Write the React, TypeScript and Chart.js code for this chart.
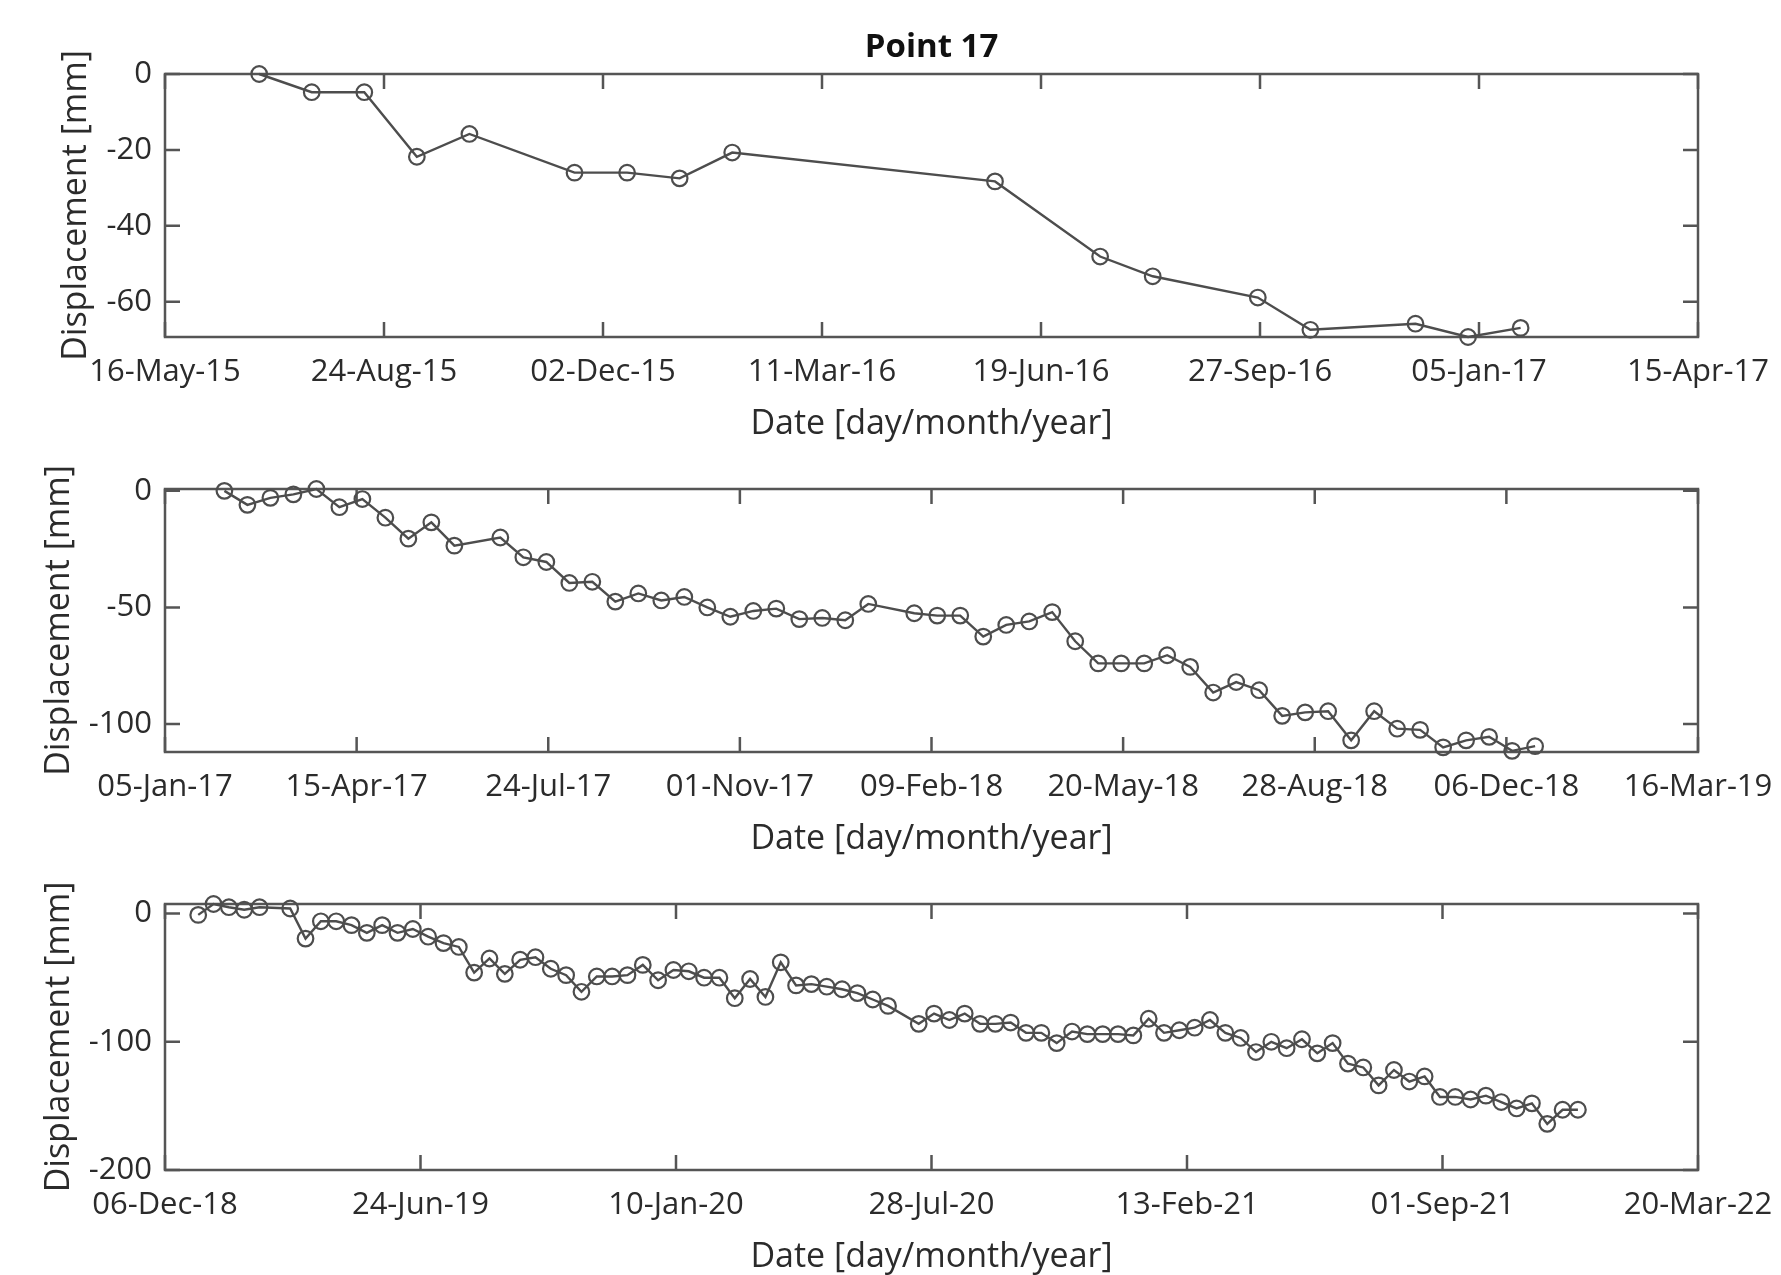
import React, { useEffect, useRef } from 'react';
import { Chart, registerables } from 'chart.js';

Chart.register(...registerables);

// ---------------- Data ----------------
const TITLE = 'Point 17';
const X_LABEL = 'Date [day/month/year]';
const Y_LABEL = 'Displacement [mm]';

// Panel 1: x = days since 16-May-15
const p1Days = [43, 67, 91, 115, 139, 187, 211, 235, 259, 379, 427, 451, 499, 523, 571, 595, 619];
const p1Disp = [0, -4.8, -4.8, -21.8, -15.8, -26, -26, -27.5, -20.7, -28.3, -48.1, -53.3, -58.9, -67.4, -65.8, -69.3, -66.9];
const p1TickDays = [0, 100, 200, 300, 400, 500, 600, 700];
const p1TickLabels = ['16-May-15', '24-Aug-15', '02-Dec-15', '11-Mar-16', '19-Jun-16', '27-Sep-16', '05-Jan-17', '15-Apr-17'];
const p1YTicks = [0, -20, -40, -60];
const p1YRange = [-69.3, 0];

// Panel 2: x = days since 05-Jan-17
const p2Days = [
  31, 43, 55, 67, 79, 91, 103, 115, 127, 139, 151,
  175, 187, 199, 211, 223, 235, 247, 259, 271, 283, 295, 307, 319, 331, 343, 355, 367,
  391, 403, 415, 427, 439, 451, 463, 475, 487, 499, 511, 523, 535, 547, 559, 571, 583, 595,
  607, 619, 631, 643, 655, 667, 679, 691, 703, 715,
];
const p2Disp = [
  0, -6, -3, -1.5, 0.8, -7, -3.5, -11.5, -20.5, -13.5, -23.5,
  -20, -28.5, -30.5, -39.5, -39, -47.5, -44, -47, -45.5, -50, -54, -51.5, -50.5, -55, -54.5, -55.5, -48.5,
  -52.5, -53.5, -53.5, -62.5, -57.5, -56, -52, -64.5, -74, -74, -74, -70.5, -75.5, -86.5, -82, -85.5, -96.5, -95,
  -94.5, -107, -94.5, -102, -102.5, -110, -107, -105.5, -111.5, -109.5,
];
const p2TickDays = [0, 100, 200, 300, 400, 500, 600, 700, 800];
const p2TickLabels = ['05-Jan-17', '15-Apr-17', '24-Jul-17', '01-Nov-17', '09-Feb-18', '20-May-18', '28-Aug-18', '06-Dec-18', '16-Mar-19'];
const p2YTicks = [0, -50, -100];
const p2YRange = [-112, 0.8];

// Panel 3: x = days since 06-Dec-18
const p3Days = [
  26, 38, 50, 62, 74,
  98, 110, 122, 134, 146, 158, 170, 182, 194, 206,
  218, 230, 242, 254, 266, 278, 290, 302, 314, 326,
  338, 350, 362, 374, 386, 398, 410, 422, 434, 446,
  458, 470, 482, 494, 506, 518, 530, 542, 554, 566,
  590, 602, 614, 626, 638, 650, 662, 674, 686, 698,
  710, 722, 734, 746, 758, 770, 782, 794, 806, 818,
  830, 842, 854, 866, 878, 890, 902, 914, 926, 938,
  950, 962, 974, 986, 998, 1010, 1022, 1034, 1046, 1058,
  1070, 1082, 1094, 1106,
];
const p3Disp = [
  -1, 7.5, 5, 3, 5,
  4, -19.5, -6, -6, -9, -15, -9, -15, -12, -18,
  -23, -26, -46, -35, -47, -36, -34, -43, -48, -61,
  -49, -49, -48, -40, -52, -44, -45, -50, -50, -66,
  -51, -65, -38, -56, -55, -57, -59, -62, -67, -72,
  -86, -78, -83, -78, -86, -86, -85, -93, -93, -101,
  -92, -94, -94, -94, -95, -82, -93, -91, -89, -83,
  -93, -97, -108, -100, -105, -98, -109, -101, -117, -120,
  -134, -122, -131, -127, -143, -143, -145, -142, -147, -152,
  -148, -164, -153, -153,
];
const p3TickDays = [0, 200, 400, 600, 800, 1000, 1200];
const p3TickLabels = ['06-Dec-18', '24-Jun-19', '10-Jan-20', '28-Jul-20', '13-Feb-21', '01-Sep-21', '20-Mar-22'];
const p3YTicks = [0, -100, -200];
const p3YRange = [-200, 7.5];

// ---------------- Styling ----------------
const FONT = '"Open Sans", "Noto Sans", "DejaVu Sans", sans-serif';
const TEXT_COLOR = '#2b2b2b';
const BOX_COLOR = '#555555';
const LINE_COLOR = '#4d4d4d';
const TICK_FONT = 31;
const LABEL_FONT = 34;
const X_AXIS_HEIGHT = 107.5;
const Y_AXIS_WIDTH = 165;
const TICK_LEN = 15;

const boxPlugin = {
  id: 'matlabBox',
  beforeDatasetsDraw(chart: any, _args: any, opts: any) {
    const { ctx, chartArea: a, scales } = chart;
    ctx.save();
    ctx.strokeStyle = BOX_COLOR;
    ctx.lineWidth = 2.5;
    ctx.strokeRect(a.left, a.top, a.right - a.left, a.bottom - a.top);
    ctx.beginPath();
    scales.x.ticks.forEach((t: any) => {
      const px = scales.x.getPixelForValue(t.value);
      ctx.moveTo(px, a.bottom);
      ctx.lineTo(px, a.bottom - TICK_LEN);
      ctx.moveTo(px, a.top);
      ctx.lineTo(px, a.top + TICK_LEN);
    });
    scales.y.ticks.forEach((t: any) => {
      const py = scales.y.getPixelForValue(t.value);
      ctx.moveTo(a.left, py);
      ctx.lineTo(a.left + TICK_LEN, py);
      ctx.moveTo(a.right, py);
      ctx.lineTo(a.right - TICK_LEN, py);
    });
    ctx.stroke();
    if (opts && opts.title) {
      ctx.fillStyle = '#111111';
      ctx.font = `bold ${LABEL_FONT - 1}px ${FONT}`;
      ctx.textAlign = 'center';
      ctx.textBaseline = 'alphabetic';
      ctx.fillText(opts.title, (a.left + a.right) / 2, opts.titleY);
    }
    ctx.restore();
  },
};

type PanelProps = {
  days: number[];
  disp: number[];
  tickDays: number[];
  tickLabels: string[];
  yTicks: number[];
  yRange: number[];
  top: number;
  height: number;
  padTop: number;
  padBottom: number;
  yTitleCenter: number;
  title?: string;
};

function Panel(p: PanelProps) {
  const ref = useRef<HTMLCanvasElement | null>(null);
  useEffect(() => {
    if (!ref.current) return;
    const data = p.days.map((d, i) => ({ x: d, y: p.disp[i] }));
    const chart = new Chart(ref.current, {
      type: 'line',
      data: {
        datasets: [
          {
            data,
            borderColor: LINE_COLOR,
            borderWidth: 2.4,
            pointRadius: 7.8,
            pointBorderWidth: 2.2,
            pointBorderColor: LINE_COLOR,
            pointBackgroundColor: 'rgba(0,0,0,0)',
            pointStyle: 'circle',
            tension: 0,
            fill: false,
            clip: false,
          } as any,
        ],
      },
      plugins: [boxPlugin as any],
      options: {
        animation: false,
        responsive: false,
        events: [],
        layout: { padding: { left: 0, right: 83, top: p.padTop, bottom: p.padBottom } },
        plugins: {
          legend: { display: false },
          tooltip: { enabled: false },
          matlabBox: { title: p.title, titleY: 57 },
        } as any,
        scales: {
          x: {
            type: 'linear',
            min: p.tickDays[0],
            max: p.tickDays[p.tickDays.length - 1],
            grid: { display: false, drawTicks: false },
            border: { display: false },
            afterBuildTicks: (scale: any) => {
              scale.ticks = p.tickDays.map((v) => ({ value: v }));
            },
            afterFit: (scale: any) => {
              scale.height = X_AXIS_HEIGHT;
              scale.paddingLeft = 0;
              scale.paddingRight = 0;
            },
            ticks: {
              autoSkip: false,
              maxRotation: 0,
              minRotation: 0,
              padding: 17,
              color: TEXT_COLOR,
              font: { family: FONT, size: TICK_FONT },
              callback: (_v: any, i: number) => p.tickLabels[i],
            },
            title: {
              display: true,
              text: X_LABEL,
              color: TEXT_COLOR,
              font: { family: FONT, size: LABEL_FONT },
              padding: { top: 0, bottom: 0 },
            },
          },
          y: {
            type: 'linear',
            min: p.yRange[0],
            max: p.yRange[1],
            grid: { display: false, drawTicks: false },
            border: { display: false },
            afterBuildTicks: (scale: any) => {
              scale.ticks = p.yTicks.map((v) => ({ value: v }));
            },
            afterFit: (scale: any) => {
              scale.width = Y_AXIS_WIDTH;
            },
            ticks: {
              padding: 13,
              color: TEXT_COLOR,
              font: { family: FONT, size: TICK_FONT },
              callback: (v: any) => String(v),
            },
            title: {
              display: true,
              text: Y_LABEL,
              color: TEXT_COLOR,
              font: { family: FONT, size: LABEL_FONT },
              padding: { top: p.yTitleCenter - LABEL_FONT * 0.6, bottom: 0 },
            },
          },
        },
      } as any,
    });
    return () => chart.destroy();
  }, []);
  return (
    <canvas
      ref={ref}
      width={1781}
      height={p.height}
      style={{ position: 'absolute', left: 0, top: p.top, width: 1781, height: p.height }}
    />
  );
}

export default function App() {
  return (
    <div style={{ position: 'absolute', left: 0, top: 0, width: 1781, height: 1275, background: '#ffffff', overflow: 'hidden' }}>
      <Panel
        days={p1Days}
        disp={p1Disp}
        tickDays={p1TickDays}
        tickLabels={p1TickLabels}
        yTicks={p1YTicks}
        yRange={p1YRange}
        top={0}
        height={450}
        padTop={74}
        padBottom={5.5}
        yTitleCenter={76}
        title={TITLE}
      />
      <Panel
        days={p2Days}
        disp={p2Disp}
        tickDays={p2TickDays}
        tickLabels={p2TickLabels}
        yTicks={p2YTicks}
        yRange={p2YRange}
        top={450}
        height={415}
        padTop={39}
        padBottom={5.5}
        yTitleCenter={59}
      />
      <Panel
        days={p3Days}
        disp={p3Disp}
        tickDays={p3TickDays}
        tickLabels={p3TickLabels}
        yTicks={p3YTicks}
        yRange={p3YRange}
        top={865}
        height={415}
        padTop={39}
        padBottom={2.5}
        yTitleCenter={59}
      />
    </div>
  );
}
